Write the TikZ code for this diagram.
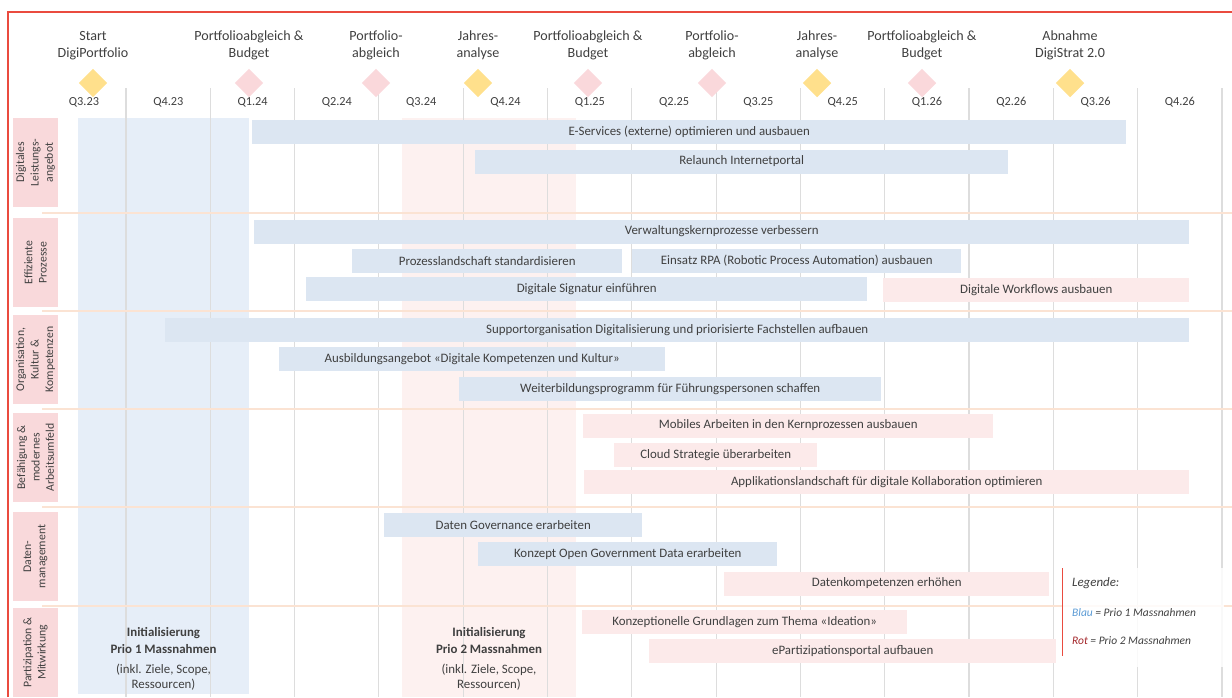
\documentclass[tikz,border=0pt]{standalone}
\usepackage{fontspec}
\setmainfont{Carlito}
\usepackage{tikz}
\usetikzlibrary{shapes.geometric}
\definecolor{TextGrau}{HTML}{404040}
\definecolor{GitterGrau}{HTML}{DDDDDD}
\definecolor{Rahmen}{HTML}{EA4B3F}
\definecolor{Trenner}{HTML}{FBE3D3}
\definecolor{BalkenBlau}{HTML}{DCE6F2}
\definecolor{BalkenRot}{HTML}{FCEAEA}
\definecolor{SpalteBlau}{HTML}{E6EEF8}
\definecolor{SpalteRot}{HTML}{FDF1F0}
\definecolor{Kategorie}{HTML}{F9D9DB}
\definecolor{Gelb}{HTML}{FFE08C}
\definecolor{Rosa}{HTML}{FAD8DB}
\definecolor{LegBlau}{HTML}{5B9BD5}
\definecolor{LegRot}{HTML}{A3262A}

% bar: name, style, x left, x right, y centre, text
\newcommand{\balken}[6]{\node[#2, minimum width={(#4-#3)*0.03cm}] (#1) at (#3,#5) {#6};}

\begin{document}
\begin{tikzpicture}[x=0.03cm, y=-0.03cm,
    gitter/.style={draw=GitterGrau, line width=1pt},
    trenner/.style={draw=Trenner, line width=1.6pt},
    quartal/.style={font=\fontsize{10.5}{12}\selectfont, text=TextGrau},
    meilenstein/.style={diamond, inner sep=0pt, minimum width=0.86cm, minimum height=0.86cm},
    meilensteintext/.style={align=center, font=\fontsize{12}{14.5}\selectfont, text=TextGrau},
    kategorie/.style={fill=Kategorie, rotate=90, align=center, inner sep=0pt,
        minimum width=2.67cm, minimum height=1.35cm,
        font=\fontsize{10}{12.3}\selectfont, text=TextGrau},
    massnahme/.style={inner sep=0pt, minimum height=0.72cm, anchor=west,
        text=TextGrau, font=\fontsize{11}{12}\selectfont},
    blau/.style={massnahme, fill=BalkenBlau},
    rot/.style={massnahme, fill=BalkenRot},
    init/.style={align=center, text=TextGrau, font=\fontsize{11}{12.5}\selectfont},
    legende/.style={anchor=west, text=TextGrau, font=\fontsize{9.8}{11}\selectfont\itshape},
]
\useasboundingbox (0,0) rectangle (1232,697);

% Initialisierung columns
\fill[SpalteBlau] (78,118) rectangle (249,694);
\fill[SpalteRot] (402,118) rectangle (576,697);

% Grid
\foreach \i in {1,...,14}
    \draw[gitter] ({41.7+84.3*\i},88) -- ({41.7+84.3*\i},697);
\foreach \y in {213,311,409,507,606}
    \draw[trenner] (42,\y) -- (1232,\y);

% Frame
\draw[Rahmen, line width=1pt] (8,697) -- (8,12) -- (1232,12);

% Quarters
\foreach \q [count=\i from 0] in {Q3.23,Q4.23,Q1.24,Q2.24,Q3.24,Q4.24,Q1.25,
        Q2.25,Q3.25,Q4.25,Q1.26,Q2.26,Q3.26,Q4.26}
    \node[quartal] (q\i) at ({84+84.3*\i},102) {\q};

% Milestones
\foreach \x/\f/\t [count=\i] in {
        93/Gelb/{Start\\DigiPortfolio},
        249/Rosa/{Portfolioabgleich \&\\Budget},
        376/Rosa/{Portfolio-\\abgleich},
        478/Gelb/{Jahres-\\analyse},
        588/Rosa/{Portfolioabgleich \&\\Budget},
        712/Rosa/{Portfolio-\\abgleich},
        817/Gelb/{Jahres-\\analyse},
        922/Rosa/{Portfolioabgleich \&\\Budget},
        1070/Gelb/{Abnahme\\DigiStrat 2.0}} {
    \node[meilenstein, fill=\f] (m\i) at (\x,83) {};
    \node[meilensteintext] (mt\i) at (\x,45.5) {\t};
}

% Categories
\foreach \y/\t [count=\i] in {
        162.5/{Digitales\\Leistungs-\\angebot},
        262.5/{Effiziente\\Prozesse},
        359.5/{Organisation,\\Kultur \&\\Kompetenzen},
        457.5/{Befähigung \&\\modernes\\Arbeitsumfeld},
        556.5/{Daten-\\management},
        652.5/{Partizipation \&\\Mitwirkung}}
    \node[kategorie] (k\i) at (35.5,\y) {\t};

% Digitales Leistungsangebot
\balken{eservices}{blau}{252}{1126}{131.5}{E-Services (externe) optimieren und ausbauen}
\balken{relaunch}{blau}{475}{1008}{161.5}{Relaunch Internetportal}

% Effiziente Prozesse
\balken{kernprozesse}{blau}{254}{1189}{231.5}{Verwaltungskernprozesse verbessern}
\balken{prozesslandschaft}{blau}{352}{622}{261}{Prozesslandschaft standardisieren}
\balken{rpa}{blau}{632}{961}{261}{Einsatz RPA (Robotic Process Automation) ausbauen}
\balken{signatur}{blau}{306}{867}{289}{Digitale Signatur einführen}
\balken{workflows}{rot}{883}{1189}{290}{Digitale Workflows ausbauen}

% Organisation, Kultur & Kompetenzen
\balken{support}{blau}{165}{1189}{330}{Supportorganisation Digitalisierung und priorisierte Fachstellen aufbauen}
\balken{ausbildung}{blau}{279}{665}{359}{Ausbildungsangebot «Digitale Kompetenzen und Kultur»}
\balken{weiterbildung}{blau}{459}{881}{389}{Weiterbildungsprogramm für Führungspersonen schaffen}

% Befaehigung & modernes Arbeitsumfeld
\balken{mobil}{rot}{583}{993}{425.5}{Mobiles Arbeiten in den Kernprozessen ausbauen}
\balken{cloud}{rot}{614}{817}{455}{Cloud Strategie überarbeiten}
\balken{kollaboration}{rot}{584}{1189}{482}{Applikationslandschaft für digitale Kollaboration optimieren}

% Datenmanagement
\balken{governance}{blau}{384}{642}{525}{Daten Governance erarbeiten}
\balken{ogd}{blau}{478}{777}{554}{Konzept Open Government Data erarbeiten}
\balken{datenkompetenz}{rot}{724}{1049}{583.5}{Datenkompetenzen erhöhen}

% Partizipation & Mitwirkung
\balken{ideation}{rot}{582}{907}{622}{Konzeptionelle Grundlagen zum Thema «Ideation»}
\balken{eportal}{rot}{649}{1056}{651}{ePartizipationsportal aufbauen}

% Initialisierung
\node[init, font=\fontsize{11}{15}\selectfont\bfseries] (init1) at (163.5,640.5) {Initialisierung\\Prio 1 Massnahmen};
\node[init] (init1b) at (163.5,677) {(inkl. Ziele, Scope,\\Ressourcen)};
\node[init, font=\fontsize{11}{15}\selectfont\bfseries] (init2) at (489,640.5) {Initialisierung\\Prio 2 Massnahmen};
\node[init] (init2b) at (489,677) {(inkl. Ziele, Scope,\\Ressourcen)};

% Legend
\fill[white, opacity=0.85] (1062,568) rectangle (1224,667);
\draw[Rahmen, line width=0.8pt] (1062,568) -- (1062,656);
\node[legende, font=\fontsize{11}{12}\selectfont\itshape] (leg) at (1068,583) {Legende:};
\node[legende] (legblau) at (1068,613) {\textcolor{LegBlau}{Blau} = Prio 1 Massnahmen};
\node[legende] (legrot) at (1068,641) {\textcolor{LegRot}{Rot} = Prio 2 Massnahmen};

\end{tikzpicture}
\end{document}
